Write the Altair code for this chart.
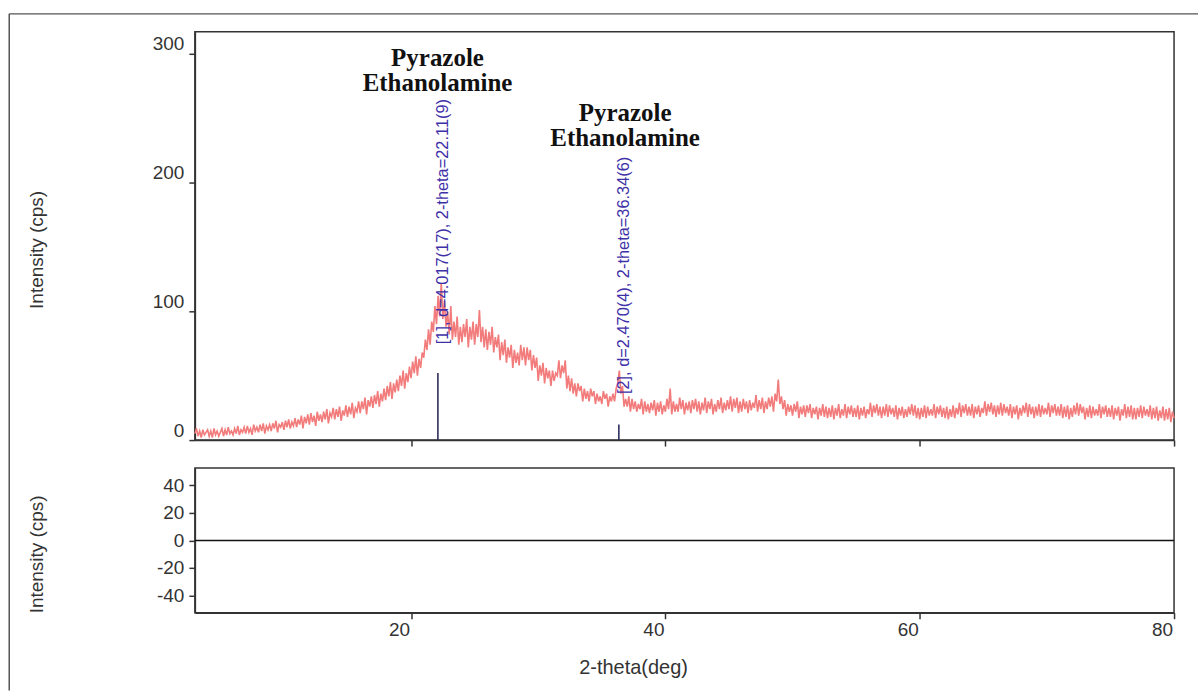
import altair as alt
import pandas as pd

# ---- data (2-theta scan, step 0.125 deg from 3 deg) ----
TWO_THETA_START = 3.0
TWO_THETA_STEP = 0.125
intensity = [
    5, 9, 3, 7, 2, 8, 4, 6,          # 3
    8, 3, 7, 2, 9, 4, 7, 3,          # 4
    6, 9, 3, 8, 4, 10, 5, 7,         # 5
    4, 9, 5, 11, 4, 8, 6, 10,        # 6
    5, 11, 6, 9, 4, 12, 7, 10,       # 7
    6, 12, 7, 13, 5, 11, 8, 12,      # 8
    7, 13, 9, 15, 6, 12, 10, 14,     # 9
    8, 15, 10, 16, 9, 14, 11, 17,    # 10
    10, 16, 12, 19, 9, 18, 13, 20,   # 11
    12, 21, 14, 19, 11, 22, 15, 20,  # 12
    14, 22, 16, 24, 13, 21, 18, 25,  # 13
    16, 24, 18, 26, 15, 23, 19, 27,  # 14
    18, 26, 20, 29, 17, 25, 22, 30,  # 15
    21, 30, 24, 33, 20, 31, 26, 34,  # 16
    25, 35, 28, 38, 26, 36, 30, 40,  # 17
    31, 42, 34, 45, 32, 44, 37, 47,  # 18
    38, 50, 42, 54, 40, 52, 45, 57,  # 19
    48, 61, 52, 65, 50, 63, 56, 68,  # 20
    64, 78, 70, 86, 74, 92, 84, 104,  # 21
    90, 112, 96, 122, 94, 108, 88, 100,  # 22
    82, 104, 78, 92, 80, 96, 74, 88,  # 23
    76, 90, 80, 94, 72, 88, 78, 92,  # 24
    74, 90, 80, 101, 76, 88, 72, 86,  # 25
    70, 84, 74, 88, 68, 80, 72, 82,  # 26
    62, 76, 66, 78, 60, 72, 64, 74,  # 27
    56, 70, 60, 68, 58, 74, 62, 72,  # 28
    58, 72, 62, 70, 54, 66, 56, 64,  # 29
    46, 58, 50, 60, 44, 56, 48, 54,  # 30
    42, 54, 46, 52, 50, 62, 48, 58,  # 31
    52, 62, 40, 50, 38, 48, 36, 44,  # 32
    34, 44, 38, 42, 30, 40, 32, 38,  # 33
    30, 40, 34, 38, 28, 36, 30, 34,  # 34
    28, 38, 32, 36, 26, 34, 30, 36,  # 35
    30, 40, 44, 54, 36, 42, 26, 32,  # 36
    26, 34, 22, 32, 24, 30, 22, 28,  # 37
    24, 32, 20, 30, 22, 28, 21, 29,  # 38
    23, 31, 19, 29, 22, 30, 20, 27,  # 39
    22, 32, 24, 40, 20, 30, 22, 28,  # 40
    22, 33, 24, 31, 20, 29, 23, 30,  # 41
    21, 31, 24, 32, 22, 30, 20, 29,  # 42
    23, 33, 21, 30, 24, 32, 20, 28,  # 43
    22, 31, 24, 33, 21, 29, 23, 31,  # 44
    24, 34, 22, 32, 25, 33, 21, 30,  # 45
    22, 32, 24, 30, 21, 31, 23, 29,  # 46
    25, 35, 22, 31, 24, 33, 21, 30,  # 47
    24, 33, 26, 34, 22, 36, 30, 47,  # 48
    28, 34, 24, 31, 19, 28, 22, 27,  # 49
    19, 28, 22, 30, 17, 26, 20, 27,  # 50
    18, 27, 21, 28, 17, 25, 20, 26,  # 51
    16, 25, 19, 28, 18, 26, 17, 25,  # 52
    18, 27, 16, 25, 19, 28, 17, 24,  # 53
    19, 28, 17, 26, 20, 27, 18, 25,  # 54
    18, 27, 16, 25, 19, 26, 17, 24,  # 55
    20, 29, 18, 27, 21, 28, 19, 26,  # 56
    17, 26, 19, 28, 18, 27, 20, 25,  # 57
    18, 27, 16, 25, 19, 26, 17, 24,  # 58
    18, 26, 20, 28, 19, 27, 17, 25,  # 59
    16, 25, 18, 27, 17, 26, 19, 24,  # 60
    19, 28, 17, 26, 20, 27, 18, 25,  # 61
    17, 26, 16, 24, 18, 27, 17, 25,  # 62
    20, 29, 18, 27, 21, 28, 19, 26,  # 63
    19, 28, 17, 26, 20, 27, 18, 25,  # 64
    21, 30, 19, 28, 22, 29, 20, 27,  # 65
    18, 27, 20, 29, 19, 28, 21, 26,  # 66
    19, 28, 17, 26, 20, 27, 16, 25,  # 67
    19, 27, 21, 29, 18, 28, 20, 26,  # 68
    17, 26, 19, 28, 18, 27, 20, 25,  # 69
    20, 29, 18, 27, 21, 28, 19, 26,  # 70
    19, 28, 17, 26, 18, 27, 16, 25,  # 71
    18, 27, 20, 29, 19, 28, 21, 26,  # 72
    16, 25, 18, 27, 17, 26, 19, 24,  # 73
    19, 28, 17, 26, 20, 27, 18, 25,  # 74
    18, 27, 16, 25, 19, 26, 15, 24,  # 75
    19, 28, 17, 26, 18, 27, 16, 25,  # 76
    16, 25, 18, 27, 17, 26, 19, 24,  # 77
    18, 27, 16, 25, 17, 26, 15, 23,  # 78
    17, 26, 15, 24, 16, 25, 14, 22,  # 79
    17,                              # 80
]
two_theta = [round(TWO_THETA_START + i * TWO_THETA_STEP, 3) for i in range(len(intensity))]

peak_pos = [22.11, 36.34]
peak_stick = [52, 12]
peak_label_start = [74.4, 35.7]
peak_labels = ["[1], d=4.017(17), 2-theta=22.11(9)", "[2], d=2.470(4), 2-theta=36.34(6)"]

phase_x = [22.08, 36.83]
phase_y = [306, 263]
phase_text = ["Pyrazole\nEthanolamine", "Pyrazole\nEthanolamine"]

x_ticks = [20, 40, 60, 80]
y_ticks_top = [0, 100, 200, 300]
y_ticks_bottom = [-40, -20, 0, 20, 40]

scan = pd.DataFrame({"two_theta": two_theta, "intensity": intensity})
sticks = pd.DataFrame({"two_theta": peak_pos, "intensity": peak_stick})
labels = pd.DataFrame({"two_theta": peak_pos, "intensity": peak_label_start, "label": peak_labels})
phases = pd.DataFrame({"two_theta": phase_x, "intensity": phase_y, "label": phase_text})
zero = pd.DataFrame({"two_theta": [3], "two_theta_end": [80], "intensity": [0]})

FONT = "Liberation Sans"
xscale = alt.Scale(domain=[3, 80], nice=False, zero=False)
yscale_top = alt.Scale(domain=[0, 317], nice=False)
yscale_bot = alt.Scale(domain=[-52.5, 52.5], nice=False)

line = alt.Chart(scan).mark_line(color="#F27B7B", strokeWidth=1.6).encode(
    x=alt.X("two_theta:Q", scale=xscale,
            axis=alt.Axis(values=x_ticks, labels=False, title=None, grid=False, tickSize=6)),
    y=alt.Y("intensity:Q", scale=yscale_top,
            axis=alt.Axis(values=y_ticks_top, title="Intensity (cps)", grid=False, tickSize=6,
                          labelPadding=5, labelOffset=-10, titleX=-159, titleY=218,
                          titleBaseline="middle", titleAlign="center")),
)

stick = alt.Chart(sticks).mark_rule(color="#2E2E5E", strokeWidth=1.6).encode(
    x="two_theta:Q", y="intensity:Q", y2=alt.datum(0)
)

peak_text = alt.Chart(labels).mark_text(
    angle=270, align="left", baseline="middle", dy=5, font=FONT, fontSize=16.4, color="#3E31A8"
).encode(x="two_theta:Q", y="intensity:Q", text="label:N")

phase = alt.Chart(phases).mark_text(
    align="center", baseline="top", lineBreak="\n", font="Liberation Serif", fontWeight="bold",
    fontSize=25, lineHeight=25, color="#111111"
).encode(x="two_theta:Q", y="intensity:Q", text="label:N")

one = alt.Data(values=[{}])
border_left = alt.Chart(one).mark_rule(color="#555555", strokeWidth=1.5).encode(
    x=alt.value(-186), y=alt.value(-18), y2=alt.value(660)
)
border_top = alt.Chart(one).mark_rule(color="#555555", strokeWidth=1.5).encode(
    x=alt.value(-186), x2=alt.value(1005), y=alt.value(-18)
)

top = alt.layer(line, stick, peak_text, phase, border_left, border_top).properties(width=981, height=409)

bottom = alt.Chart(zero).mark_rule(color="#111111", strokeWidth=1.5).encode(
    x=alt.X("two_theta:Q", scale=xscale,
            axis=alt.Axis(values=x_ticks, title="2-theta(deg)", grid=False, tickSize=6,
                          labelPadding=2, labelOffset=-12, labelFlush=False,
                          titleX=439, titleY=55, titleBaseline="middle", titleAlign="center",
                          titleFontSize=20)),
    x2="two_theta_end:Q",
    y=alt.Y("intensity:Q", scale=yscale_bot,
            axis=alt.Axis(values=y_ticks_bottom, title="Intensity (cps)", grid=False, tickSize=6,
                          labelPadding=5, labelExpr="datum.value + ''", titleX=-159, titleY=86,
                          titleBaseline="middle", titleAlign="center")),
).properties(width=981, height=145)

chart = alt.vconcat(top, bottom, spacing=28, bounds="flush").properties(
    padding={"left": 7.25, "top": 11.25, "right": 0, "bottom": 0},
    background="white",
).configure_view(
    stroke="#333333", strokeWidth=1.5
).configure_axis(
    labelFont=FONT, labelFontSize=19, labelColor="#333333",
    titleFont=FONT, titleFontSize=19, titleFontWeight="normal", titleColor="#333333",
    domainColor="#333333", domainWidth=1.5, tickColor="#333333", tickWidth=1.5,
)

chart.save("out.html", embed_options={"renderer": "svg", "actions": False})
